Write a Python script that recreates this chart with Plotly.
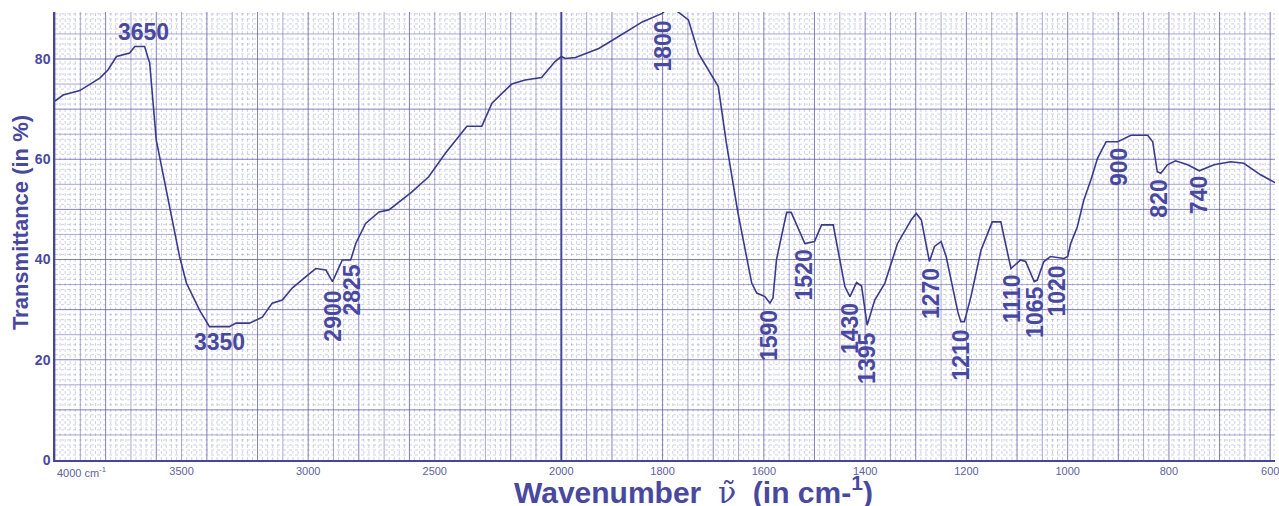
import numpy as np
import plotly.graph_objects as go

# ---------------- data ----------------
wavenumber = [4000, 3968, 3902, 3875, 3823, 3791, 3757, 3705, 3685, 3646, 3626, 3600,
              3560, 3508, 3481, 3429, 3390, 3311, 3285, 3232, 3181, 3142, 3102, 3063,
              3009, 2970, 2930, 2904, 2865, 2832, 2812, 2773, 2720, 2681, 2590, 2524,
              2458, 2393, 2373, 2314, 2274, 2196, 2143, 2078, 2025, 2000, 1992, 1972,
              1926, 1887, 1840, 1801, 1785, 1772, 1749, 1729, 1703, 1690, 1674, 1651,
              1624, 1614, 1598, 1588, 1582, 1575, 1555, 1546, 1519, 1500, 1486, 1463,
              1440, 1430, 1417, 1407, 1396, 1381, 1361, 1336, 1309, 1299, 1289, 1273,
              1263, 1250, 1240, 1217, 1211, 1204, 1191, 1171, 1149, 1132, 1112, 1093,
              1083, 1066, 1060, 1047, 1034, 1007, 1000, 994, 981, 968, 961, 954, 941,
              924, 901, 891, 875, 842, 832, 823, 816, 803, 787, 763, 740, 711, 678,
              652, 619, 588]
transmittance = [71.6, 72.8, 73.7, 74.5, 76.2, 77.8, 80.5, 81.2, 82.5, 82.5, 79.2, 63.8,
                 53.9, 40.6, 35.3, 29.9, 26.6, 26.6, 27.3, 27.3, 28.5, 31.3, 31.9, 34.3,
                 36.6, 38.2, 37.9, 35.6, 39.9, 39.9, 43.2, 47.2, 49.5, 49.9, 53.5, 56.5,
                 61.2, 65.2, 66.6, 66.6, 71.2, 75.0, 75.8, 76.3, 79.5, 80.5, 80.1, 80.3,
                 82.1, 84.5, 87.4, 89.1, 90.5, 89.6, 87.8, 81.1, 76.5, 74.5, 63.2, 49.2,
                 35.3, 33.3, 32.6, 31.3, 32.3, 40.0, 49.4, 49.4, 43.2, 43.6, 46.9, 46.9,
                 34.6, 32.6, 35.4, 34.7, 26.9, 31.9, 35.3, 43.2, 47.9, 49.2, 47.9, 39.6,
                 42.6, 43.6, 40.6, 29.6, 27.6, 27.6, 32.6, 41.9, 47.5, 47.5, 38.2, 39.9,
                 39.6, 35.6, 35.9, 39.6, 40.6, 40.2, 40.6, 43.2, 46.5, 51.9, 53.9, 55.9, 60.2,
                 63.5, 63.5, 64.0, 64.8, 64.8, 63.5, 57.5, 57.2, 58.9, 59.7, 58.9, 57.7, 58.9, 59.5,
                 59.2, 56.9, 55.2]

# peak labels: wavenumber, label height (in % T), orientation
peak_labels = [3650, 3350, 2900, 2825, 1800, 1590, 1520, 1430, 1395, 1270, 1210,
               1110, 1065, 1020, 900, 820, 740]
peak_label_T = [85.4, 23.5, 28.7, 33.9, 82.6, 24.9, 36.9, 26.3, 20.3, 33.3, 20.9,
                32.3, 29.5, 33.7, 58.5, 52.1, 52.9]
peak_label_angle = [0, 0, -90, -90, -90, -90, -90, -90, -90, -90, -90,
                    -90, -90, -90, -90, -90, -90]

x_tick_values = [3500, 3000, 2500, 2000, 1800, 1600, 1400, 1200, 1000, 800, 600]
y_tick_values = [0, 20, 40, 60, 80]


# IR chart paper: the scale above 2000 cm-1 is compressed by a factor of two
def to_u(w):
    w = np.asarray(w, dtype=float)
    return np.where(w > 2000, 2000 + (w - 2000) / 2.0, w)


INK = "rgb(58,58,140)"
TXT = "rgb(72,72,160)"

fig = go.Figure()
fig.add_trace(go.Scatter(x=to_u(wavenumber), y=transmittance, mode="lines",
                         line=dict(color=INK, width=1.6), hoverinfo="skip",
                         showlegend=False))

U_LEFT, U_RIGHT = 3000, 590.5
Y_TOP = 89.38

shapes = []
# fine dotted grid
for u in np.arange(600, 3001, 10):
    if u % 50 == 0:
        continue
    shapes.append(dict(type="line", xref="x", yref="paper", x0=u, x1=u, y0=0, y1=1,
                       line=dict(color="rgba(125,125,200,0.36)", width=1, dash="dot"),
                       layer="below"))
for t in np.arange(1, 90, 1):
    if t % 5 == 0:
        continue
    shapes.append(dict(type="line", xref="paper", yref="y", x0=0, x1=1, y0=t, y1=t,
                       line=dict(color="rgba(125,125,200,0.36)", width=1, dash="dot"),
                       layer="below"))
# medium grid
for u in np.arange(600, 3001, 50):
    col = "rgba(80,80,165,0.72)" if u % 100 == 0 else "rgba(95,95,175,0.55)"
    w = 1
    if u == 2000:
        col, w = "rgba(60,60,150,0.95)", 2
    shapes.append(dict(type="line", xref="x", yref="paper", x0=u, x1=u, y0=0, y1=1,
                       line=dict(color=col, width=w), layer="below"))
for t in np.arange(5, 90, 5):
    col = "rgba(80,80,165,0.72)" if t % 10 == 0 else "rgba(95,95,175,0.55)"
    shapes.append(dict(type="line", xref="paper", yref="y", x0=0, x1=1, y0=t, y1=t,
                       line=dict(color=col, width=1), layer="below"))

annotations = []
for lab, ty, ang in zip(peak_labels, peak_label_T, peak_label_angle):
    annotations.append(dict(x=float(to_u(lab)), y=ty, xref="x", yref="y",
                            text=str(lab), showarrow=False, textangle=ang,
                            font=dict(family="Liberation Sans, Arial", size=23,
                                      color=TXT, weight="bold"),
                            xanchor="center", yanchor="middle"))

# first x tick label (left aligned)
annotations.append(dict(x=float(to_u(4000)), y=0, xref="x", yref="y",
                        text="4000 cm<sup>-1</sup>", showarrow=False,
                        xanchor="left", yanchor="top", yshift=-3,
                        font=dict(family="Liberation Sans, Arial", size=11,
                                  color="rgb(95,95,160)")))

# axis titles
annotations.append(dict(x=-0.0286, y=0.529, xref="paper", yref="paper",
                        text="Transmittance (in %)", showarrow=False, textangle=-90,
                        font=dict(family="Liberation Sans, Arial", size=22,
                                  color=TXT, weight="bold"),
                        xanchor="center", yanchor="middle"))
annotations.append(dict(x=0.5237, y=-0.067, xref="paper", yref="paper",
                        text="Wavenumber  <span style='font-family:DejaVu Serif;font-weight:normal'>ν̃</span>  (in cm-<sup>1</sup>)",
                        showarrow=False,
                        font=dict(family="Liberation Sans, Arial", size=30,
                                  color=TXT, weight="bold"),
                        xanchor="center", yanchor="middle"))

fig.update_layout(
    width=1279, height=506,
    margin=dict(l=55, r=0, t=12, b=46),
    paper_bgcolor="white", plot_bgcolor="white",
    shapes=shapes, annotations=annotations,
    xaxis=dict(range=[U_LEFT, U_RIGHT], tickmode="array",
               tickvals=list(to_u(x_tick_values)),
               ticktext=[str(v) for v in x_tick_values],
               ticklabeloverflow="allow",
               showgrid=False, zeroline=False, ticks="", ticklen=0,
               showline=True, linecolor="rgb(70,70,150)", linewidth=1.5,
               tickfont=dict(family="Liberation Sans, Arial", size=11,
                             color="rgb(95,95,160)")),
    yaxis=dict(range=[0, Y_TOP], tickmode="array", tickvals=y_tick_values,
               showgrid=False, zeroline=False, ticks="",
               showline=True, linecolor="rgb(70,70,150)", linewidth=1.5,
               tickfont=dict(family="Liberation Sans, Arial", size=14,
                             color=TXT, weight="bold")),
)

fig.write_html("out.html", config={"displayModeBar": False},
               post_script="document.body.style.margin='0';document.body.style.overflow='hidden';")
